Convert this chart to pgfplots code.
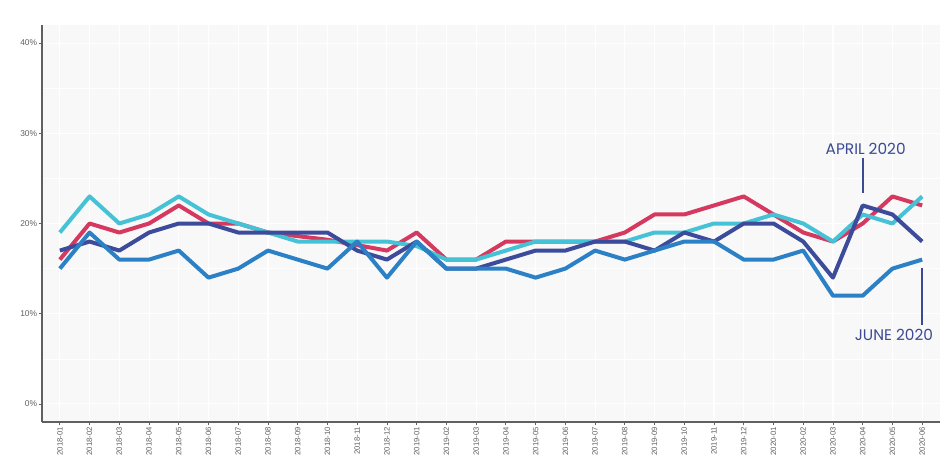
\documentclass[border=0pt]{standalone}
\usepackage{fontspec}
\setmainfont{Liberation Sans}
\newfontfamily\poppins{Poppins}
\usepackage{pgfplots}
\usepackage{pgfplotstable}
\pgfplotsset{compat=1.18}
\usetikzlibrary{calc}

\definecolor{serRed}{HTML}{D6395F}
\definecolor{serCyan}{HTML}{45C2D5}
\definecolor{serNavy}{HTML}{3C4B9A}
\definecolor{serBlue}{HTML}{2B80C6}
\definecolor{annot}{HTML}{3B4A94}
\definecolor{bggray}{HTML}{F8F8F8}
\definecolor{axisgray}{HTML}{606060}
\definecolor{labelgray}{HTML}{606060}

% monthly shares, 2018-01 .. 2020-06 (index 0..29)
\pgfplotstableread{
m  red  cyan navy blue
0  16   19   17   15
1  20   23   18   19
2  19   20   17   16
3  20   21   19   16
4  22   23   20   17
5  20   21   20   14
6  20   20   19   15
7  19   19   19   17
8  18.6 18   19   16
9  18.2 18   19   15
10 17.6 18   17   18
11 17   18   16   14
12 19   17.5 18   18
13 16   16   15   15
14 16   16   15   15
15 18   17   16   15
16 18   18   17   14
17 18   18   17   15
18 18   18   18   17
19 19   18   18   16
20 21   19   17   17
21 21   19   19   18
22 22   20   18   18
23 23   20   20   16
24 21   21   20   16
25 19   20   18   17
26 18   18   14   12
27 20   21   22   12
28 23   20   21   15
29 22   23   18   16
}\datatable

\begin{document}
\begin{tikzpicture}
\begin{axis}[
  name=ax,
  scale only axis,
  width=673.5pt, height=297.75pt,
  xmin=-0.6, xmax=29.6, ymin=-2, ymax=42,
  axis background/.style={fill=bggray},
  axis x line*=bottom, axis y line*=left,
  axis line style={draw=axisgray, line width=0.8pt},
  xtick={0,...,29},
  xticklabels={2018-01,2018-02,2018-03,2018-04,2018-05,2018-06,2018-07,2018-08,2018-09,2018-10,2018-11,2018-12,
    2019-01,2019-02,2019-03,2019-04,2019-05,2019-06,2019-07,2019-08,2019-09,2019-10,2019-11,2019-12,
    2020-01,2020-02,2020-03,2020-04,2020-05,2020-06},
  x tick label style={rotate=90, anchor=east, font=\fontsize{5.8}{6}\selectfont, text=labelgray, inner sep=1pt},
  ytick={0,10,20,30,40},
  yticklabel={\pgfmathprintnumber{\tick}\%},
  y tick label style={font=\fontsize{6.3}{7}\selectfont, text=labelgray, inner sep=1pt},
  minor ytick={5,15,25,35},
  minor tick length=0pt,
  major tick length=2.5pt,
  tick align=outside,
  tick style={draw=axisgray, line width=0.6pt},
  grid=both,
  major grid style={white, line width=0.8pt},
  minor grid style={white, line width=0.5pt},
  /pgf/number format/assume math mode=true,
  clip=false,
  every axis plot/.append style={line width=3pt, line join=round, no markers},
]
\addplot[serRed]  table[x=m, y=red]  {\datatable};
\addplot[serCyan] table[x=m, y=cyan] {\datatable};
\addplot[serNavy] table[x=m, y=navy] {\datatable};
\addplot[serBlue] table[x=m, y=blue] {\datatable};

\draw[annot, line width=1.3pt] (axis cs:27,23.4) -- (axis cs:27,27.3);
\node[anchor=base, text=annot, font=\poppins\fontsize{11.5}{12}\selectfont, inner sep=0pt]
  at (axis cs:27.1,27.7) {APRIL 2020};
\draw[annot, line width=1.3pt] (axis cs:29,15.1) -- (axis cs:29,8.7);
\node[anchor=north, text=annot, font=\poppins\fontsize{11.5}{12}\selectfont, inner sep=0pt]
  at (axis cs:28.05,8.3) {JUNE 2020};
\end{axis}
\path ($(ax.south west)+(-31.5pt,-39pt)$) rectangle ($(ax.north east)+(6pt,18.75pt)$);
\end{tikzpicture}
\end{document}
